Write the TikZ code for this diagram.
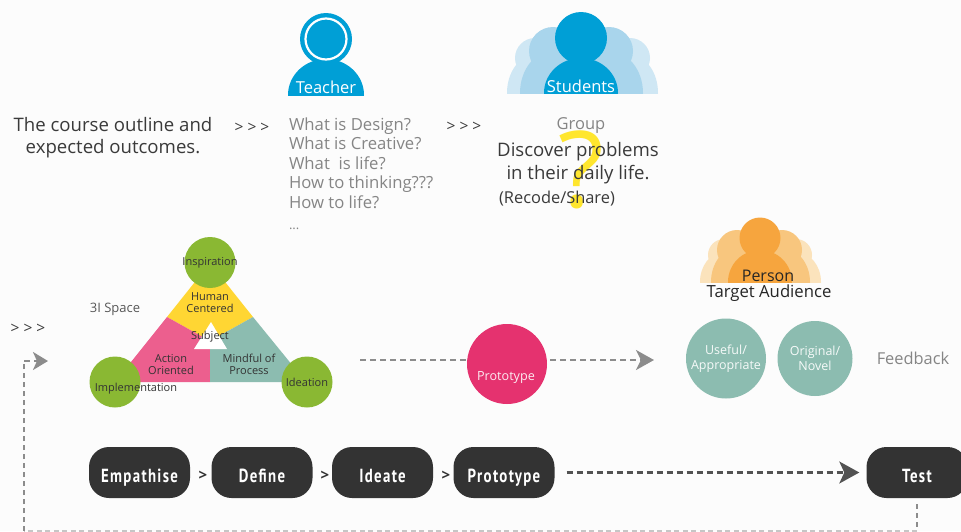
\documentclass[tikz,border=0pt]{standalone}
\usepackage{fontspec}
\usetikzlibrary{arrows.meta}
\setmainfont{Open Sans}
\newfontfamily\pillfont[LetterSpace=9,BoldFont={PT Sans Bold}]{PT Sans}
\definecolor{bluemain}{HTML}{009FD6}
\definecolor{bluemid}{HTML}{A9D5EC}
\definecolor{bluepale}{HTML}{CFE7F4}
\definecolor{orangemain}{HTML}{F6A53E}
\definecolor{orangemid}{HTML}{F8C67E}
\definecolor{orangepale}{HTML}{FBE3BC}
\definecolor{leaf}{HTML}{8AB833}
\definecolor{rosepink}{HTML}{EC5F8E}
\definecolor{sun}{HTML}{FFD633}
\definecolor{qyellow}{HTML}{FFE62E}
\definecolor{tealsoft}{HTML}{8CBCB0}
\definecolor{magentaball}{HTML}{E5326F}
\definecolor{pilldark}{HTML}{333333}
\definecolor{txtgray}{HTML}{858585}
\definecolor{txtdark}{HTML}{3A3A3A}
\definecolor{dashgray}{HTML}{8C8C8C}
\newcommand{\fsz}[1]{\fontsize{#1}{#1}\selectfont}
\tikzset{
  x=1pt,y=-1pt,
  txt/.style={inner sep=0pt,outer sep=0pt,align=center,text=txtdark},
  bigtxt/.style={txt,font=\fsz{18.6},text depth=0pt},
  graytxt/.style={txt,text=txtgray,font=\fsz{16.5}},
  listline/.style={graytxt,anchor=base west,font=\fsz{16.7}},
  labeltxt/.style={txt,font=\fsz{11},text=black!80},
  whitetxt/.style={txt,text=white,font=\fsz{16.5}},
  chev/.style={txt,font=\fsz{15.5},text=txtdark},
  ball/.style={circle,fill=leaf,minimum size=51pt,inner sep=0pt},
  softball/.style={circle,fill=tealsoft,inner sep=0pt,text=white!92!tealsoft,font=\fsz{12.5},align=center},
  pill/.style={rectangle,rounded corners=20pt,fill=pilldark,minimum height=51pt,minimum width=101pt,inner sep=0pt,text=white,text height=19pt,text depth=0pt,font=\pillfont\bfseries\fsz{16.5}},
  smallgt/.style={txt,font=\bfseries\fsz{15},text=pilldark},
  dashline/.style={dashgray,line width=2.2pt,dash pattern=on 6pt off 4pt},
  darkdash/.style={pilldark!85,line width=2.2pt,dash pattern=on 6pt off 4pt},
  tipgray/.style={-{Stealth[length=18pt,width=20pt,inset=5pt,fill=dashgray]}},
  tipdark/.style={-{Stealth[length=20pt,width=22pt,inset=5pt,fill=pilldark!85]}},
}
\newcommand{\pilltext}[1]{\scalebox{0.9}[1.15]{#1}}
\newcommand{\person}[5]{% x, head y, head r, half body width, colour; base given by \personbase
  \begin{scope}
    \clip (#1-#4-1,\personbase-#4-30) rectangle (#1+#4+1,\personbase);
    \fill[#5] (#1,\personbase) ellipse [x radius=#4,y radius=\personry];
  \end{scope}
  \fill[#5] (#1,#2) circle (#3);
}
\begin{document}
\begin{tikzpicture}
\useasboundingbox (0,0) rectangle (961,531);
\fill[white!99!black] (0,0) rectangle (961,531);
\clip (0,0) rectangle (961,531);

% Teacher
\def\personbase{95}\def\personry{36}
\person{326}{39}{26}{38}{bluemain}
\draw[white,line width=2.2pt] (326,39) circle (20.5);
\node[whitetxt] (teacher) at (326,87) {Teacher};

% Students
\def\personbase{93}\def\personry{38}
\person{535}{58}{20}{28}{bluepale}
\person{630}{58}{20}{28}{bluepale}
\def\personry{42}
\person{553}{51}{24}{33}{bluemid}
\person{609}{51}{24}{34}{bluemid}
\def\personry{35}
\person{581}{38}{26}{37}{bluemain}
\node[whitetxt] (students) at (581,86) {Students};

% Question mark
\node[inner sep=0pt,text=qyellow,font=\fsz{106}] (qmark) at (581,170) {?};

% Top text
\node[bigtxt] (outline) at (113,135.5) {The course outline and\\[3pt]expected outcomes.};
\node[chev] (chevA) at (252,128) {> > >};
\node[chev] (chevB) at (464,127) {> > >};
\node[chev] (chevC) at (28,329) {> > >};
\node[listline] (q1) at (289,130) {What is Design?};
\node[listline] (q2) at (289,149) {What is Creative?};
\node[listline] (q3) at (289,169) {What\ \ is life?};
\node[listline] (q4) at (289,188.5) {How to thinking???};
\node[listline] (q5) at (289,208) {How to life?};
\node[listline,font=\fsz{13}] (q6) at (289,229) {...};
\node[graytxt] (group) at (581,126) {Group};
\node[bigtxt] (disc1) at (578,149.5) {Discover problems};
\node[bigtxt] (disc2) at (578,172) {in their daily life.};
\node[txt,font=\fsz{16.4}] (recode) at (557,199) {(Recode/Share)};

% 3I triangle
\fill[sun] (210,263) -- (253,317) -- (210,341) -- (167,317) -- cycle;
\fill[rosepink] (167,317) -- (115,382) -- (210,382) -- (210,341) -- cycle;
\fill[tealsoft] (253,317) -- (306,382) -- (210,382) -- (210,341) -- cycle;
\fill[white] (211,322) -- (227,349) -- (194,349) -- cycle;
\node[ball] (inspire) at (210,262.5) {};
\node[ball] (implement) at (115,382) {};
\node[ball] (ideation) at (307,382) {};
\node[labeltxt] at (inspire) {Inspiration};
\node[labeltxt] at (ideation) {Ideation};
\node[labeltxt] (impltxt) at (136,389) {Implementation};
\node[labeltxt] (human) at (210,302.5) {Human\\[1pt]Centered};
\node[labeltxt] (subject) at (210,337) {Subject};
\node[labeltxt] (action) at (171,364.5) {Action\\[1pt]Oriented};
\node[labeltxt] (mindful) at (249,364) {Mindful of\\[1pt]Process};
\node[txt,text=txtdark!85,font=\fsz{13}] (space) at (115,309) {3I Space};

% Prototype and arrow
\coordinate (protoStart) at (360,360);
\coordinate (protoEnd) at (654,360);
\draw[dashline,tipgray] (protoStart) -- (protoEnd);
\node[circle,fill=magentaball,minimum size=80pt,inner sep=0pt] (protoball) at (507,364) {};
\node[txt,text=white!90!magentaball,font=\fsz{12.6}] at (506,378) {Prototype};

% Person
\def\personbase{282}\def\personry{30}
\person{724}{255}{16}{24}{orangepale}
\person{796}{255}{16}{25}{orangepale}
\def\personry{34}
\person{737}{250}{20}{26}{orangemid}
\person{782}{250}{20}{28}{orangemid}
\def\personry{32}
\person{760}{238}{20.5}{32}{orangemain}
\node[txt,font=\fsz{16},text=black!85] (person) at (768,275.5) {Person};
\node[txt,font=\fsz{16.7},text=black!85] (audience) at (769,293) {Target Audience};

% Right circles
\node[softball,minimum size=80pt] (useful) at (726,358.5) {Useful/\\[2pt]Appropriate};
\node[softball,minimum size=75pt] (original) at (815,358.5) {Original/\\[2pt]Novel};
\node[graytxt,font=\fsz{16.4}] (feedback) at (913,358) {Feedback};

% Pills
\node[pill] (emp) at (139.5,472.5) {\pilltext{Empathise}};
\node[pill] (def) at (262,472.5) {\pilltext{Define}};
\node[pill] (ide) at (382.5,472.5) {\pilltext{Ideate}};
\node[pill] (pro) at (504,472.5) {\pilltext{Prototype}};
\node[pill] (tst) at (917,472.5) {\pilltext{Test}};
\node[smallgt] (gtA) at (203,476) {>};
\node[smallgt] (gtB) at (325,476) {>};
\node[smallgt] (gtC) at (446,476) {>};
\draw[darkdash,tipdark,shorten <=12pt,shorten >=7pt] (pro.east) -- (tst.west);

% Feedback loop
\coordinate (loopA) at (917,531);
\coordinate (loopB) at (24,531);
\coordinate (loopC) at (24,361);
\coordinate (loopD) at (48,361);
\draw[dashgray,line width=2pt,dash pattern=on 5pt off 4pt,shorten <=6pt] (tst.south) -- (loopA);
\draw[dashgray!50,line width=1.2pt,dash pattern=on 5pt off 3.5pt] (loopA) -- (loopB);
\draw[dashgray,line width=2pt,dash pattern=on 5pt off 4pt] (loopB) -- (loopC);
\draw[dashline,-{Stealth[length=15pt,width=18pt,inset=4pt,fill=dashgray]}] (loopC) -- (loopD);
\end{tikzpicture}
\end{document}
